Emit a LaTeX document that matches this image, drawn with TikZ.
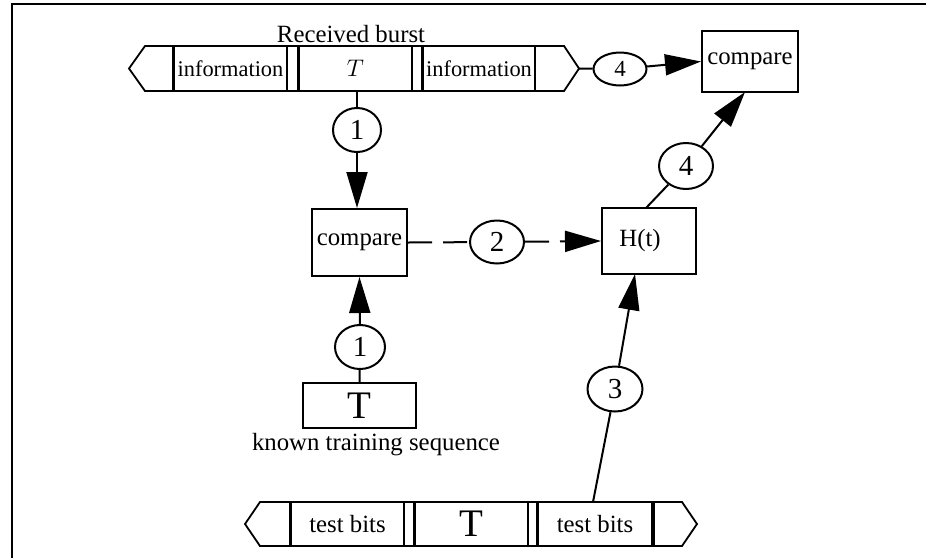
\documentclass[tikz,border=0pt]{standalone}
\usepackage{fontspec}
\setmainfont{Liberation Serif}
\usetikzlibrary{arrows.meta,shapes.geometric}

\begin{document}
\begin{tikzpicture}[x=0.5pt,y=-0.5pt,
  every node/.style={font=\fontsize{12.4}{14}\selectfont},
  cell/.style={draw,line width=0.9pt,inner sep=0pt,minimum height=22.5pt},
  blk/.style={draw,line width=1pt,inner sep=0pt},
  num/.style={draw,ellipse,line width=1pt,inner sep=0pt,
    font=\fontsize{14.5}{16}\selectfont},
  link/.style={line width=1pt},
  arr/.style={link,-{Triangle[length=18pt,width=10.5pt]}},
  dsh/.style={dash pattern=on 12pt off 5.5pt},
  edge/.style={line width=1.6pt},
  big/.style={font=\fontsize{19.5}{22}\selectfont}]

\useasboundingbox (0,0) rectangle (926,558);

% frame
\draw[line width=1.2pt] (12,558) -- (12,4) -- (926,4);

% received burst
\node[anchor=base] (rb) at (351,42) {Received burst};
\draw[line width=0.9pt] (174,46) -- (145,46) -- (129,68.5) -- (145,91) -- (174,91);
\node[cell,minimum width=56.5pt] (i1) at (230.5,68.5) {\fontsize{11.2}{13}\selectfont information};
\node[cell,minimum width=6pt] (g1) at (293,68.5) {};
\node[cell,minimum width=56.5pt] (tt) at (355.5,68.5) {$T$};
\node[cell,minimum width=5.5pt] (g2) at (417.5,68.5) {};
\node[cell,minimum width=56pt] (i2) at (479,68.5) {\fontsize{11.2}{13}\selectfont information};
\draw[line width=0.9pt] (535,46) -- (564,46) -- (579,68.5) -- (564,91) -- (535,91);
\coordinate (rtip) at (579,68.5);
\foreach \n in {i1,tt,i2}
  \draw[edge] (\n.north west) -- (\n.south west);

% test burst
\draw[line width=0.9pt] (291,502) -- (260,502) -- (245,524) -- (260,546) -- (291,546);
\node[cell,minimum height=22pt,minimum width=56.5pt] (b1) at (347.5,524) {test bits};
\node[cell,minimum height=22pt,minimum width=5.5pt] (bg1) at (409.5,524) {};
\node[cell,minimum height=22pt,minimum width=56.5pt,big] (bt) at (471.5,524) {T};
\node[cell,minimum height=22pt,minimum width=5pt] (bg2) at (533,524) {};
\node[cell,minimum height=22pt,minimum width=57pt] (b2) at (595,524) {test bits};
\draw[line width=0.9pt] (652,502) -- (682,502) -- (697,524) -- (682,546) -- (652,546);
\foreach \n in {b1,bt,b2}
  \draw[edge] (\n.north west) -- (\n.south west);
\draw[edge] (b2.north east) -- (b2.south east);

% blocks
\node[blk,minimum width=47.5pt,minimum height=33.5pt] (c1) at (359.5,242.5) {compare};
\node[blk,minimum width=47pt,minimum height=33pt] (ht) at (649,241) {\hspace*{-9pt}H(t)};
\node[blk,minimum width=48pt,minimum height=30.5pt] (c2) at (750,61.5) {compare};
\node[blk,minimum width=56.5pt,minimum height=22.5pt,big] (kt) at (359.5,405.5) {T};
\node[anchor=base] (kl) at (376,450) {known training sequence};

% numbered steps
\node[num,minimum width=24pt,minimum height=22pt] (n1a) at (357,130) {1};
\node[num,minimum width=25pt,minimum height=22pt] (n1b) at (360,347) {1};
\node[num,minimum width=27pt,minimum height=21.5pt] (n2) at (497,242) {2};
\node[num,minimum width=27.5pt,minimum height=22.5pt] (n3) at (615,389) {3};
\node[num,minimum width=27pt,minimum height=23pt] (n4b) at (686,166) {4};
\node[num,minimum width=26.5pt,minimum height=16.5pt,
  font=\fontsize{11.5}{13}\selectfont] (n4a) at (620,69) {4};

% connector end points
\coordinate (s3) at (593,502);
\coordinate (h3) at (635,274);
\coordinate (h4) at (646,208);
\coordinate (c4) at (745,92);

% connectors
\draw[link] (tt.south -| n1a) -- (n1a);
\draw[arr] (n1a) -- (c1.north -| n1a);
\draw[link] (kt.north) -- (n1b);
\draw[arr] (n1b) -- (c1.south);
\draw[link,dsh] (c1.east) -- (n2);
\draw[arr,dsh] (n2) -- (ht.west);
\draw[link] (s3) -- (n3);
\draw[arr] (n3) -- (h3);
\draw[link] (h4) -- (n4b);
\draw[arr] (n4b) -- (c4);
\draw[link] (rtip) -- (n4a);
\draw[arr] (n4a) -- (c2.west);
\end{tikzpicture}
\end{document}
